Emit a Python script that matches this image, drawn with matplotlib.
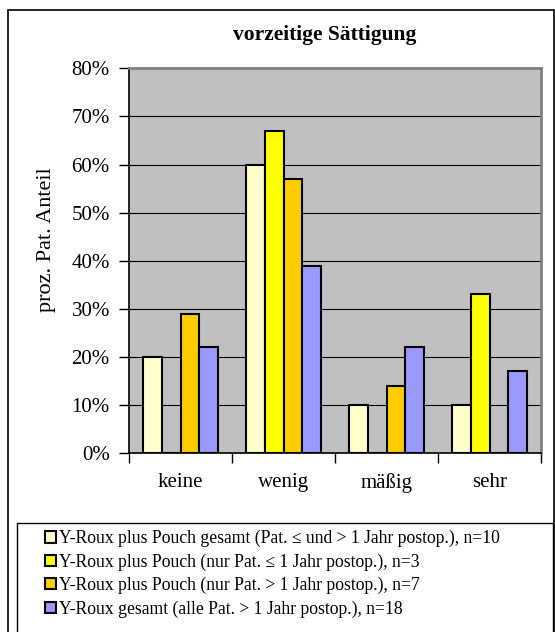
import matplotlib
matplotlib.use('Agg')
import matplotlib.pyplot as plt
from matplotlib.patches import Patch, Rectangle
from matplotlib.ticker import MultipleLocator, FuncFormatter, FixedLocator
import numpy as np

plt.rcParams['font.family'] = ['Liberation Serif', 'DejaVu Serif']

categories = ['keine', 'wenig', 'mäßig', 'sehr']
series_names = ['Y-Roux plus Pouch gesamt (Pat. ≤ und > 1 Jahr postop.), n=10',
                'Y-Roux plus Pouch (nur Pat. ≤ 1 Jahr postop.), n=3',
                'Y-Roux plus Pouch (nur Pat. > 1 Jahr postop.), n=7',
                'Y-Roux gesamt (alle Pat. > 1 Jahr postop.), n=18']
values = [[20, 60, 10, 10],
          [0, 67, 0, 33],
          [29, 57, 14, 0],
          [22, 39, 22, 17]]
colors = ['#FFFFCC', '#FFFF00', '#FFCC00', '#9999FF']

W, H = 555, 632
fig = plt.figure(figsize=(W / 100, H / 100), dpi=100)

# outer chart frame and legend box (both run off the bottom edge)
fig.patches.append(Rectangle((8 / W, -0.05), (554 - 8) / W, 1.05 - 10 / H, transform=fig.transFigure,
                             fill=False, edgecolor='black', lw=1.2))
fig.patches.append(Rectangle((17 / W, -0.05), (553 - 17) / W, 0.05 + 1 - 522.7 / H, transform=fig.transFigure,
                             fill=False, edgecolor='black', lw=1.0))

ax = fig.add_axes([129.3 / W, 1 - 453.3 / H, (541 - 129.3) / W, (453.3 - 68.3) / H])
ax.set_facecolor('#C0C0C0')

x = np.arange(len(categories))
bw = 0.182
for i, (vals, c) in enumerate(zip(values, colors)):
    ax.bar(x - 1.5 * bw + i * bw, vals, width=bw, color=c, edgecolor='black', lw=1.5, zorder=3)

ax.set_xlim(-0.5, 3.5)
ax.set_ylim(0, 80)
ax.yaxis.set_major_locator(MultipleLocator(10))
ax.yaxis.set_major_formatter(FuncFormatter(lambda v, p: '%d%%' % v))
ax.grid(axis='y', color='black', lw=0.8, zorder=1)
ax.set_xticks(x)
ax.set_xticklabels(categories, fontsize=15)
ax.xaxis.set_minor_locator(FixedLocator([-0.5, 0.5, 1.5, 2.5, 3.5]))
ax.tick_params(axis='x', which='major', length=0, pad=14)
ax.tick_params(axis='x', which='minor', length=7, width=1, direction='out')
ax.tick_params(axis='y', length=7, width=1, labelsize=15, pad=7)
for s in ['top', 'right']:
    ax.spines[s].set_color('#808080')
    ax.spines[s].set_linewidth(2)
for s in ['left', 'bottom']:
    ax.spines[s].set_color('black')
    ax.spines[s].set_linewidth(1.2)

fig.text(46 / W, 1 - 240 / H, 'proz. Pat. Anteil', rotation=90, ha='center', va='center', fontsize=16)
fig.text(325 / W, 1 - 35 / H, 'vorzeitige Sättigung', ha='center', va='center', fontsize=15.5, fontweight='bold')

handles = [Patch(facecolor=c, edgecolor='black', lw=1.5) for c in colors]
leg = fig.legend(handles, series_names, loc='upper left',
                 bbox_to_anchor=(38 / W, 1 - 522.7 / H), frameon=False,
                 fontsize=12.7, handlelength=0.62, handleheight=0.62, handletextpad=0.15,
                 labelspacing=0.35, borderpad=0.4, borderaxespad=0)

fig.savefig('out.png', dpi=100)
